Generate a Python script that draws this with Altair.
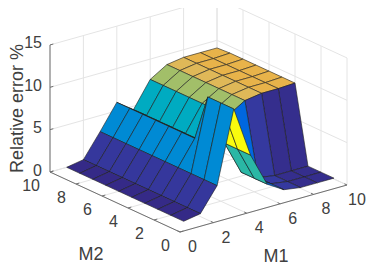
import altair as alt
import pandas as pd

M1 = [1, 2, 3, 4, 5, 6, 7, 8, 9, 10]
M2 = [1, 2, 3, 4, 5, 6, 7, 8, 9, 10]
# error[i][j]: row i is M1, column j is M2
error = [
    [0.0, 0.0, 0.0, 0.0, 0.0, 0.0, 0.0, 0.0, 0.0, 0.0],
    [0.35, 0.35, 0.35, 0.35, 0.35, 0.35, 0.35, 0.35, 0.35, 0.35],
    [3.1, 3.1, 3.1, 3.1, 3.1, 3.1, 3.1, 3.1, 3.1, 3.1],
    [11.6, 11.6, 11.6, 6.0, 6.0, 6.0, 6.0, 6.0, 6.0, 6.0],
    [5.6, 5.6, 5.6, 4.6, 4.6, 4.6, 4.6, 4.6, 4.6, 4.6],
    [1.6, 1.6, 1.6, 7.6, 7.6, 7.6, 7.6, 7.6, 7.6, 7.6],
    [0.4, 0.4, 0.4, 8.8, 8.8, 8.8, 8.8, 8.8, 8.8, 8.8],
    [0.1, 0.1, 0.1, 9.1, 9.1, 9.1, 9.1, 9.1, 9.1, 9.1],
    [0.1, 0.1, 0.1, 9.1, 9.1, 9.1, 9.1, 9.1, 9.1, 9.1],
    [0.1, 0.1, 0.1, 9.2, 9.2, 9.2, 9.2, 9.2, 9.2, 9.1],
]
xy_ticks = [0, 2, 4, 6, 8, 10]
z_ticks = [0, 5, 10, 15]
color_stops = [0, 1.45, 2.9, 4.35, 5.8, 7.25, 8.8, 9.1, 10.15, 11.6]
color_range = ["#352a87", "#0363e1", "#1485d4", "#06a7c6", "#38b99e",
               "#92bf73", "#dfb858", "#e8b34a", "#fcce2e", "#f9fb0e"]


def project(m1, m2, z):
    return 180 + 16.7 * m1 - 13.0 * m2, 232 - 4.7 * m1 - 6.0 * m2 - 8.47 * z


def path_rows(rows, pid, pts, **extra):
    for k, p in enumerate(pts):
        x, y = project(*p)
        rows.append(dict(id=pid, o=k, x=x, y=y, **extra))


faces = []
n = 0
for i in range(len(M1) - 2, -1, -1):
    for j in range(len(M2) - 2, -1, -1):
        pts = [(M1[i], M2[j], error[i][j]), (M1[i + 1], M2[j], error[i + 1][j]),
               (M1[i + 1], M2[j + 1], error[i + 1][j + 1]), (M1[i], M2[j + 1], error[i][j + 1]),
               (M1[i], M2[j], error[i][j])]
        path_rows(faces, n, pts, c=error[i][j])
        n += 1

grid = []
g = 0
for k in xy_ticks:
    path_rows(grid, g, [(k, 0, 0), (k, 10, 0), (k, 10, 15)]); g += 1
    path_rows(grid, g, [(0, k, 0), (10, k, 0), (10, k, 15)]); g += 1
for k in z_ticks:
    path_rows(grid, g, [(0, 10, k), (10, 10, k), (10, 0, k)]); g += 1

axes = []
g = 0
path_rows(axes, g, [(0, 10, 0), (0, 10, 15)]); g += 1
path_rows(axes, g, [(0, 10, 0), (0, 0, 0), (10, 0, 0)]); g += 1
for k in xy_ticks:
    path_rows(axes, g, [(0, k, 0), (0.2, k, 0)]); g += 1
    path_rows(axes, g, [(k, 0, 0), (k, 0.2, 0)]); g += 1
for k in z_ticks:
    path_rows(axes, g, [(0, 10, k), (0.2, 10, k)]); g += 1


def labels(axis):
    rows = []
    for k in (z_ticks if axis == "z" else xy_ticks):
        p = {"z": (0, 10, k), "m1": (k, 0, 0), "m2": (0, k, 0)}[axis]
        x, y = project(*p)
        if axis == "m1":
            x = min(x, 340)  # the last label has to stay inside the page
        rows.append(dict(x=x, y=y, t=str(k)))
    return pd.DataFrame(rows)


X = alt.X("x:Q", axis=None, scale=alt.Scale(domain=[8, 366], nice=False, zero=False))
Y = alt.Y("y:Q", axis=None, scale=alt.Scale(domain=[8, 267], reverse=True, nice=False, zero=False))
FONT = "Liberation Sans"
TXT = "#404040"


def txt(df, size=16, **kw):
    return alt.Chart(df).mark_text(font=FONT, fontSize=size, color=TXT, **kw).encode(x=X, y=Y, text="t:N")


grid_layer = alt.Chart(pd.DataFrame(grid)).mark_line(color="#e4e4e4", strokeWidth=1).encode(
    x=X, y=Y, detail="id:N", order="o:Q")
axis_layer = alt.Chart(pd.DataFrame(axes)).mark_line(color="#707070", strokeWidth=1).encode(
    x=X, y=Y, detail="id:N", order="o:Q")
face_layer = alt.Chart(pd.DataFrame(faces)).mark_line(stroke="#1c1c1c", strokeWidth=0.6).encode(
    x=X, y=Y, detail="id:N", order="o:Q",
    fill=alt.Fill("c:Q", legend=None, scale=alt.Scale(domain=color_stops, range=color_range)))

chart = alt.layer(
    grid_layer,
    axis_layer,
    face_layer,
    txt(labels("z"), align="right", dx=-8, dy=-1.5, baseline="middle"),
    txt(labels("m1"), align="left", dx=8, dy=15, baseline="middle"),
    txt(labels("m2"), align="right", dx=-10, dy=14, baseline="middle"),
    txt(pd.DataFrame([dict(x=91, y=255, t="M2")]), size=18, align="center", baseline="middle"),
    txt(pd.DataFrame([dict(x=276, y=257, t="M1")]), size=18, align="center", baseline="middle"),
    txt(pd.DataFrame([dict(x=23, y=108.5, t="Relative error %")]), size=18, angle=270, align="center", baseline="alphabetic"),
).properties(width=358, height=259, padding=0, autosize=alt.AutoSizeParams(type="none")).configure_view(stroke=None)

chart.save("out.html", embed_options={"renderer": "svg", "actions": False})
